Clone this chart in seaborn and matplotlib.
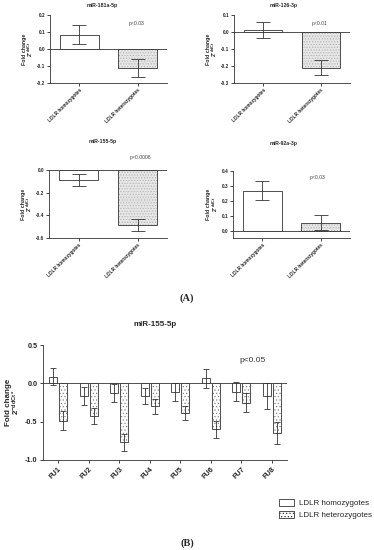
import numpy as np
import pandas as pd
import seaborn as sns
import matplotlib.pyplot as plt
from matplotlib.patches import Patch
from matplotlib.colors import to_rgba

# panel A: two genotype groups per miRNA
groups = ["LDLR homozygotes", "LDLR heterozygotes"]

mir181_mean = [0.085, -0.11]
mir181_err = [0.055, 0.052]
mir126_mean = [0.012, -0.21]
mir126_err = [0.048, 0.045]
mir155_mean = [-0.088, -0.487]
mir155_err = [0.055, 0.052]
mir92_mean = [0.268, 0.055]
mir92_err = [0.062, 0.05]

# panel B: miR-155-5p over follow-up visits
fu_labels = ["FU1", "FU2", "FU3", "FU4", "FU5", "FU6", "FU7", "FU8"]
homo_mean = [0.085, -0.165, -0.13, -0.165, -0.11, 0.065, -0.11, -0.16]
homo_err = [0.11, 0.12, 0.115, 0.11, 0.12, 0.125, 0.125, 0.17]
het_mean = [-0.49, -0.43, -0.77, -0.30, -0.385, -0.60, -0.255, -0.65]
het_err = [0.125, 0.105, 0.11, 0.10, 0.09, 0.11, 0.125, 0.145]

sns.set_style("ticks")
plt.rcParams['font.family'] = ['Liberation Sans', 'DejaVu Sans']
plt.rcParams['mathtext.default'] = 'regular'
plt.rcParams['hatch.linewidth'] = 0.5
plt.rcParams['axes.linewidth'] = 0.6
plt.rcParams['axes.edgecolor'] = '#333333'

W, H = 374, 550
fig = plt.figure(figsize=(W / 100, H / 100), dpi=100)


def px_axes(l, t, r, b):
    return fig.add_axes([l / W, 1 - b / H, (r - l) / W, (b - t) / H])


def dot_fill(bar, hatch, color):
    bar.set_hatch(hatch)
    # grey dots, dark outline
    bar._hatch_color = to_rgba(color)


def small_panel(box, mean, err, title, tpos, ylim, yticks, ptxt, ppos):
    ax = px_axes(*box)
    df = pd.DataFrame({"group": groups, "value": mean})
    sns.barplot(data=df, x="group", y="value", hue="group", order=groups,
                hue_order=groups, palette=["white", "#e6e6e6"], legend=False,
                width=0.66, errorbar=None, edgecolor="#333333", linewidth=0.6, ax=ax)
    dot_fill(ax.patches[1], "......", "#b0b0b0")
    xs = [p.get_x() + p.get_width() / 2 for p in ax.patches]
    ax.errorbar(xs, mean, yerr=err, fmt="none", ecolor="#333333",
                elinewidth=0.6, capsize=5, capthick=0.6)
    ax.axhline(0, color="#333333", lw=0.6, zorder=0)
    ax.set_ylim(*ylim)
    ax.set_xlim(-0.5, 1.5)
    ax.set_yticks(yticks)
    ax.set_yticklabels(["%.1f" % v for v in yticks], fontsize=3.4, fontweight="bold")
    ax.set_xticks([0, 1])
    ax.set_xticklabels(groups, rotation=45, ha="right", rotation_mode="anchor",
                       fontsize=3.4, fontweight="bold")
    ax.tick_params(length=2, width=0.6, pad=1.5)
    ax.set_xlabel("")
    ax.set_ylabel("Fold change\n$2^{-ddCt}$", fontsize=3.8, fontweight="bold",
                  linespacing=0.9, labelpad=1)
    sns.despine(ax=ax)
    fig.text(tpos[0] / W, 1 - tpos[1] / H, title, ha="center", va="center",
             fontsize=3.7, fontweight="bold")
    fig.text(ppos[0] / W, 1 - ppos[1] / H, ptxt, ha="center", va="center",
             fontsize=3.7, color="#444444")
    return ax


small_panel((50, 15, 167, 83), mir181_mean, mir181_err, "miR-181a-5p", (102, 6),
            (-0.2, 0.2), [-0.2, -0.1, 0.0, 0.1, 0.2], "p<0.03", (137, 23))
small_panel((234, 15, 350, 83), mir126_mean, mir126_err, "miR-126-3p", (284, 6),
            (-0.3, 0.1), [-0.3, -0.2, -0.1, 0.0, 0.1], "p<0.01", (320, 23))
small_panel((49, 170, 167, 238), mir155_mean, mir155_err, "miR-155-5p", (103, 142),
            (-0.6, 0.0), [-0.6, -0.4, -0.2, 0.0], "p=0.0006", (140, 157))
small_panel((233, 171, 350, 238), mir92_mean, mir92_err, "miR-92a-3p", (284, 143),
            (-0.047, 0.4), [0.0, 0.1, 0.2, 0.3, 0.4], "p<0.03", (318, 177))

fig.text(187 / W, 1 - 298 / H, "(A)", ha="center", va="center", fontsize=7.5,
         fontweight="bold", family="Liberation Serif")

# panel B
axb = px_axes(43, 345, 287, 460)
dfb = pd.DataFrame({
    "FU": fu_labels * 2,
    "genotype": [groups[0]] * len(fu_labels) + [groups[1]] * len(fu_labels),
    "value": homo_mean + het_mean,
})
sns.barplot(data=dfb, x="FU", y="value", hue="genotype", order=fu_labels,
            hue_order=groups, palette=["white", "white"], width=0.68, gap=0.22,
            errorbar=None, edgecolor="#333333", linewidth=0.6, legend=False, ax=axb)
for bar in axb.containers[1]:
    dot_fill(bar, ".....", "#888888")
for cont, mean, err in zip(axb.containers, [homo_mean, het_mean], [homo_err, het_err]):
    xs = [p.get_x() + p.get_width() / 2 for p in cont]
    axb.errorbar(xs, mean, yerr=err, fmt="none", ecolor="#333333",
                 elinewidth=0.6, capsize=2.2, capthick=0.6)
axb.axhline(0, color="#333333", lw=0.6, zorder=0)
axb.set_ylim(-1.0, 0.5)
axb.set_xlim(-0.5, 7.5)
axb.set_yticks([-1.0, -0.5, 0.0, 0.5])
axb.set_yticklabels(["-1.0", "-0.5", "0.0", "0.5"], fontsize=5.2, fontweight="bold")
axb.set_xticks(range(len(fu_labels)))
axb.set_xticklabels(fu_labels, rotation=45, ha="right", rotation_mode="anchor",
                    fontsize=5.2, fontweight="bold")
axb.tick_params(length=2.5, width=0.6, pad=1.5)
axb.set_xlabel("")
axb.set_ylabel("Fold change\n$2^{-ddCt*}$", fontsize=5.8, fontweight="bold",
               linespacing=0.9, labelpad=2)
sns.despine(ax=axb)
fig.text(155 / W, 1 - 325 / H, "miR-155-5p", ha="center", va="center",
         fontsize=5.8, fontweight="bold")
fig.text(253 / W, 1 - 361 / H, "p<0.05", ha="center", va="center",
         fontsize=6, color="#333333")

handles = [Patch(facecolor="white", edgecolor="#333333", lw=0.6),
           Patch(facecolor="white", edgecolor="#333333", lw=0.6, hatch=".....")]
fig.legend(handles, groups, loc="upper left", bbox_to_anchor=(276 / W, 1 - 496 / H),
           frameon=False, fontsize=5.8, handlelength=1.8, handleheight=0.9,
           labelspacing=0.5, handletextpad=0.7, borderaxespad=0)

fig.text(187 / W, 1 - 543 / H, "(B)", ha="center", va="center", fontsize=7.5,
         fontweight="bold", family="Liberation Serif")

fig.savefig("out.png", dpi=100, facecolor="white")
